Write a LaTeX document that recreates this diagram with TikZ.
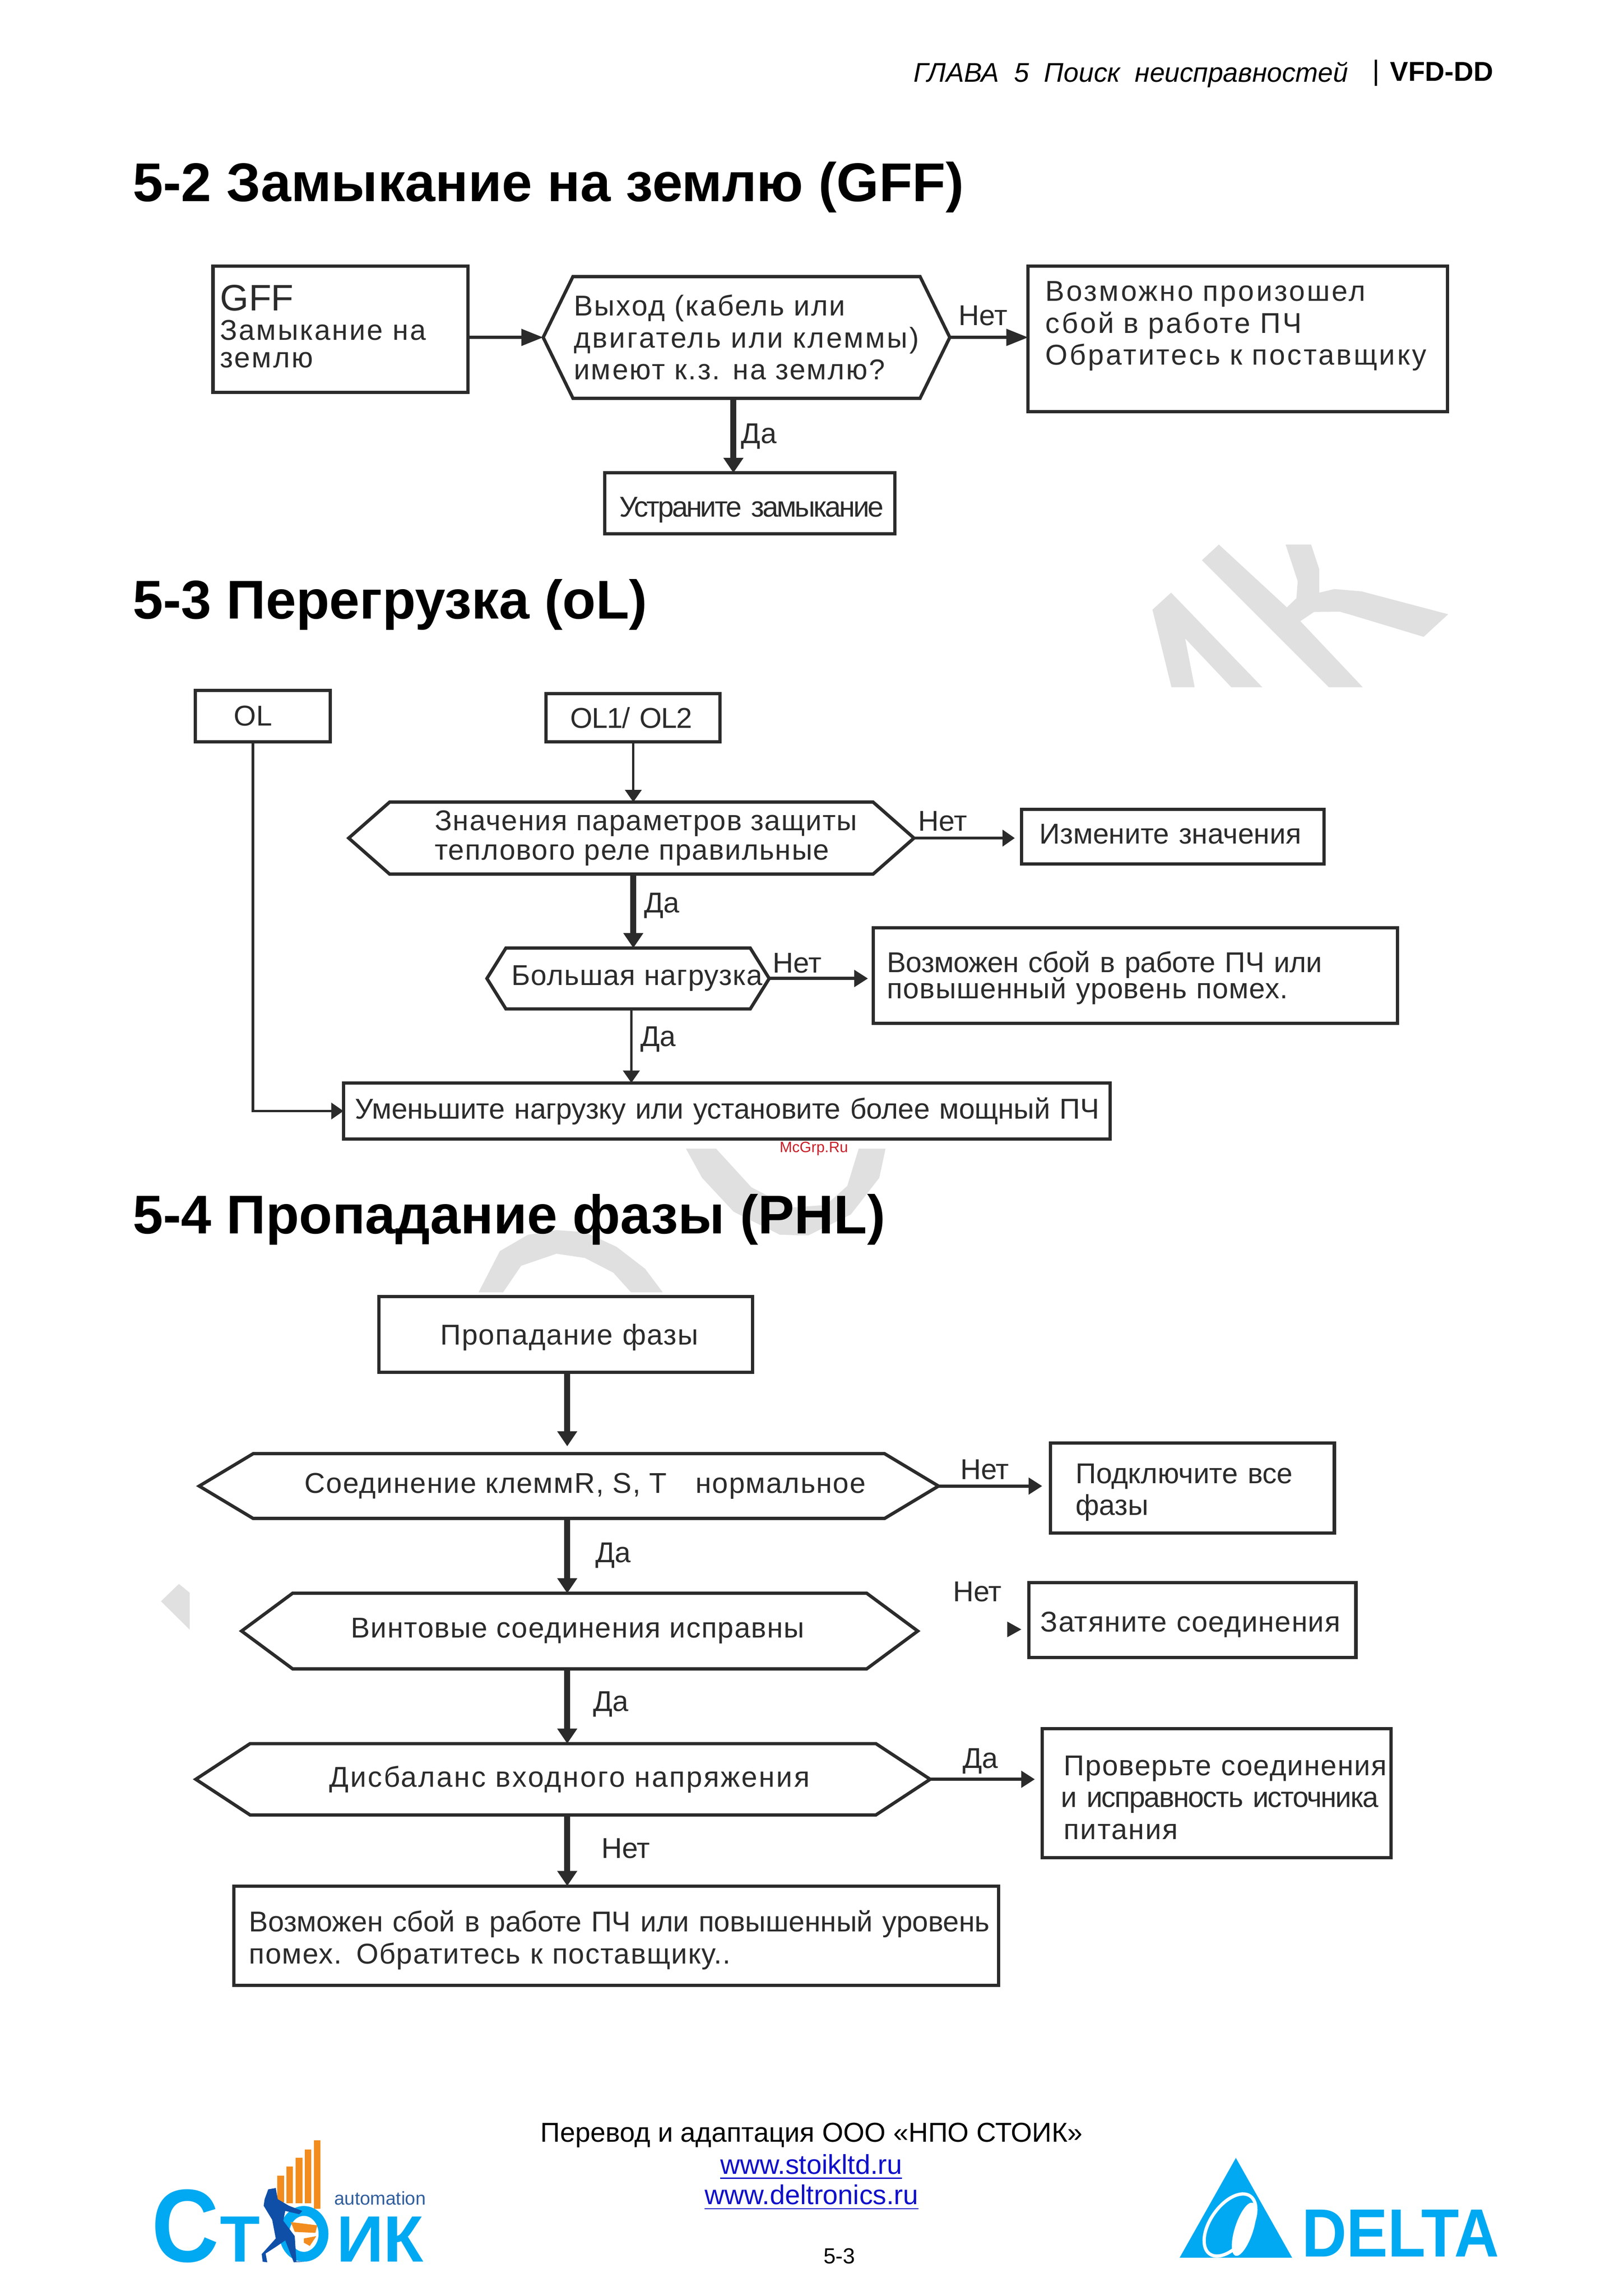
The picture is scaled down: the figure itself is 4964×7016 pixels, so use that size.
\documentclass[tikz,border=0pt]{standalone}
\usepackage{fontspec}
\setmainfont{Liberation Sans}
\usetikzlibrary{arrows.meta}

\definecolor{inkline}{HTML}{2B2B2B}
\definecolor{markgray}{HTML}{E0E0E0}
\definecolor{logoblue}{HTML}{00A9F1}
\definecolor{logonavy}{HTML}{0F4FA8}
\definecolor{logoorange}{HTML}{F28C1E}
\definecolor{linkblue}{HTML}{1010C8}
\definecolor{sitered}{HTML}{C8202A}

\def\px{0.12pt}
\newcommand{\flowfont}{\fontsize{10.5}{11.7}\selectfont}
\newcommand{\spaced}[2]{\mbox{\addfontfeature{LetterSpace=#1}#2}}

\tikzset{
  flowbox/.style n args={3}{rectangle, draw=inkline, line width=1.2pt, text=inkline,
    minimum width=#1*\px, minimum height=#2*\px, text width=(#1-2*#3)*\px,
    inner xsep=#3*\px, inner ysep=0pt, outer sep=0pt, align=left, font=\flowfont},
  hexbox/.style n args={3}{rectangle, text=inkline, minimum width=#1*\px, minimum height=#2*\px,
    inner sep=0pt, outer sep=0pt, align=left, font=\flowfont,
    append after command={(\tikzlastnode.west)
      -- ([xshift=#3*\px]\tikzlastnode.north west) -- ([xshift=-#3*\px]\tikzlastnode.north east)
      -- (\tikzlastnode.east)
      -- ([xshift=-#3*\px]\tikzlastnode.south east) -- ([xshift=#3*\px]\tikzlastnode.south west)
      -- cycle}},
  tracking/.style={font=\flowfont\addfontfeature{LetterSpace=#1}},
  hexline/.style={draw=inkline, line width=1.2pt},
  yesno/.style={text=inkline, inner sep=0pt, font=\flowfont},
  headtext/.style={inner sep=0pt, anchor=west, font=\fontsize{20}{24}\selectfont\bfseries},
  foot/.style={inner sep=0pt, font=\fontsize{10}{12}\selectfont},
  arrowthin/.style={color=inkline, line width=0.9pt, ->, >={Stealth[inset=0pt,length=4.5pt,width=6pt]}},
  arrowmid/.style={color=inkline, line width=1.2pt, ->, >={Stealth[inset=0pt,length=5pt,width=6pt]}},
  arrowbig/.style={color=inkline, line width=1.2pt, ->, >={Stealth[inset=0pt,length=8pt,width=6pt]}},
  arrowfat/.style={color=inkline, line width=2.2pt, ->, >={Stealth[inset=0pt,length=5.5pt,width=7pt]}},
  logotext/.style={text=logoblue, inner sep=0pt, anchor=base west, font=\fontsize{24}{24}\selectfont\bfseries},
}

\begin{document}
\begin{tikzpicture}[x=0.12pt, y=-0.12pt]
  \useasboundingbox (0,0) rectangle (4964,7016);

  % Watermark
  \fill[markgray] (3580,1811) -- (3523,1863) -- (3581,2100) -- (3652,2100) -- (3623,1951)
    -- (3764,2100) -- (3859,2100) -- cycle;
  \fill[markgray] (3726,1664) -- (3674,1712) -- (4062,2100) -- (4166,2100) -- (3975,1898)
    -- (4017,1870) -- (4095,1869) -- (4137,1881) -- (4352,1946) -- (4427,1877) -- (4162,1807)
    -- (4079,1800) -- (4033,1811) -- (4033,1740) -- (4008,1664) -- (3930,1664) -- (3967,1776)
    -- (3963,1828) -- (3934,1856) -- cycle;
  \fill[markgray] (2097,3510) -- (2189,3510) -- (2297,3628) -- (2417,3690) -- (2525,3682)
    -- (2590,3624) -- (2625,3510) -- (2707,3510) -- (2688,3599) -- (2601,3711) -- (2471,3775)
    -- (2384,3773) -- (2243,3703) -- (2146,3599) -- cycle;
  \fill[markgray] (1463,3949) -- (1538,3949) -- (1593,3868) -- (1701,3831) -- (1788,3844)
    -- (1875,3889) -- (1929,3949) -- (2026,3949) -- (1972,3877) -- (1885,3810) -- (1788,3765)
    -- (1701,3759) -- (1614,3773) -- (1528,3823) -- cycle;
  \fill[markgray] (547,4840) -- (492,4893) -- (580,4980) -- (580,4867) -- cycle;

  % Page header
  \draw (2792,228) node(chapter) [inner sep=0pt, anchor=west, font=\fontsize{9.9}{12}\selectfont\itshape] {ГЛАВА~~5~~Поиск~~неисправностей};
  \draw (4248,219) node(model) [inner sep=0pt, anchor=west, font=\fontsize{10}{12}\selectfont\bfseries] {VFD-DD};
  \draw[line width=0.8pt] (4206,182) -- (4206,263);

  % Titles
  \draw (404,572) node(titleGff) [headtext] {5-2 Замыкание на землю (GFF)};
  \draw (404,1847) node(titleOl) [headtext] {5-3 Перегрузка (oL)};
  \draw (404,3726) node(titlePhl) [headtext] {5-4 Пропадание фазы (PHL)};

  % Nodes, ground fault
  \draw (1041,1006) node(gffBox) [flowbox={780}{385}{22}, tracking=5.5, text depth=23pt] {{\fontsize{13.5}{13.5}\selectfont\addfontfeature{LetterSpace=0}GFF}\\[-1pt]Замыкание на\\[-1.5pt]землю};
  \draw[hexline] (2282,1031) node(gffHex) [hexbox={1243}{372}{91}, tracking=5] {Выход (кабель или\\\spaced{6.5}{двигатель или клеммы)}\\имеют к.з. на землю?};
  \draw (3784,1036) node(gffAdvice) [flowbox={1282}{445}{53}, tracking=7, text depth=35pt] {Возможно произошел\\сбой в работе ПЧ\\Обратитесь к поставщику};
  \draw (2292,1538) node(gffFix) [flowbox={887}{186}{45}, tracking=-6] {\raisebox{-4.9pt}[0pt][0pt]{Устраните замыкание}};
  \draw (3005,965) node(gffNo) [yesno] {Нет};
  \draw (2320,1333) node(gffYes) [yesno] {Да};

  % Edges, ground fault
  \path[arrowbig] (gffHex.west -| gffBox.east) edge (gffHex.west);
  \path[arrowbig] (gffHex.east) edge (gffHex.east -| gffAdvice.west);
  \path[arrowfat] ([xshift=-40*\px]gffHex.south) edge ([xshift=-50*\px]gffFix.north);

  % Nodes, overload
  \draw (803,2188) node(olBox) [flowbox={412}{157}{118}] {OL};
  \draw (1935,2193) node(olTwoBox) [flowbox={531}{147}{74}, tracking=-2.5] {\mbox{OL1/ OL2}};
  \draw[hexline] (1930,2561) node(paramHex) [hexbox={1728}{220}{125}, tracking=3] {\hspace*{10.8pt}Значения параметров защиты\\[-1pt]\hspace*{10.8pt}теплового реле правильные};
  \draw (3585,2557) node(changeBox) [flowbox={924}{167}{55}, text depth=2.2pt] {Измените значения};
  \draw[hexline] (1920,2990) node(loadHex) [hexbox={863}{186}{58}, tracking=2.2] {\hspace*{6.7pt}Большая нагрузка};
  \draw (3471,2981) node(faultBox) [flowbox={1602}{292}{42}, text depth=10.3pt] {\spaced{-1}{Возможен сбой в работе ПЧ или}\\[-2pt]\spaced{2}{повышенный уровень помех.}};
  \draw (2222,3395) node(reduceBox) [flowbox={2344}{172}{36}, tracking=-0.5] {\mbox{Уменьшите нагрузку или установите более мощный ПЧ}};
  \draw (2882,2509) node(paramNo) [yesno] {Нет};
  \draw (2023,2767) node(paramYes) [yesno] {Да};
  \draw (2437,2943) node(loadNo) [yesno] {Нет};
  \draw (2012,3176) node(loadYes) [yesno] {Да};

  % Edges, overload
  \path[arrowthin] ([xshift=1*\px]olTwoBox.south) edge ([xshift=6*\px]paramHex.north);
  \path[arrowthin, shorten >=2.5pt] (paramHex.east) edge (paramHex.east -| changeBox.west);
  \path[arrowfat] ([xshift=6*\px]paramHex.south) edge ([xshift=16*\px]loadHex.north);
  \path[arrowmid, shorten >=2pt] (loadHex.east) edge (loadHex.east -| faultBox.west);
  \path[arrowthin] ([xshift=10*\px]loadHex.south) edge ([xshift=-292*\px]reduceBox.north);
  \draw[arrowthin] ([xshift=-30*\px]olBox.south) |- (reduceBox.west);

  % Nodes, phase loss
  \draw (1729,4078) node(phaseBox) [flowbox={1142}{232}{188}, tracking=3.3, text depth=-1pt] {\mbox{Пропадание фазы}};
  \draw[hexline] (1739,4541) node(termHex) [hexbox={2260}{198}{165}, tracking=3] {\hspace*{12pt}Соединение клеммR, S, T\quad нормальное};
  \draw (3645,4547) node(wireBox) [flowbox={868}{276}{77}, text depth=10.7pt] {Подключите все\\фазы};
  \draw[hexline] (1772,4984) node(screwHex) [hexbox={2067}{231}{156}, tracking=2.7] {Винтовые соединения исправны\hspace*{1.5pt}};
  \draw (3645,4950) node(tightenBox) [flowbox={1000}{229}{36}, tracking=2.4] {\raisebox{-4.4pt}[0pt][0pt]{Затяните соединения}};
  \draw[hexline] (1721,5437) node(unbalHex) [hexbox={2245}{218}{166}, tracking=5.5] {\hspace*{4.8pt}Дисбаланс входного напряжения};
  \draw (3719,5479) node(supplyBox) [flowbox={1066}{394}{66}, text depth=20.2pt] {\spaced{3.2}{Проверьте соединения}\\\hspace*{-1pt}\spaced{-3.6}{и исправность источника}\\\spaced{4}{питания}};
  \draw (1884,5915) node(noiseBox) [flowbox={2337}{304}{46}, text depth=10.7pt] {\mbox{Возможен сбой в работе ПЧ или повышенный уровень}\\\spaced{2.9}{помех. Обратитесь к поставщику..}};
  \draw (3010,4491) node(termNo) [yesno] {Нет};
  \draw (1874,4753) node(termYes) [yesno] {Да};
  \draw (2988,4864) node(screwNo) [yesno] {Нет};
  \draw (1867,5208) node(screwYes) [yesno] {Да};
  \draw (2997,5382) node(unbalYes) [yesno] {Да};
  \draw (1913,5648) node(unbalNo) [yesno] {Нет};

  % Edges, phase loss
  \path[arrowfat, shorten >=2.7pt] ([xshift=5*\px]phaseBox.south) edge ([xshift=-5*\px]termHex.north);
  \path[arrowmid, shorten >=3pt] (termHex.east) edge (termHex.east -| wireBox.west);
  \path[arrowfat] ([xshift=-5*\px]termHex.south) edge ([xshift=-38*\px]screwHex.north);
  \fill[inkline] (3079,4955) -- (3122,4979) -- (3079,5003) -- cycle;
  \path[arrowfat] ([xshift=-38*\px]screwHex.south) edge ([xshift=13*\px]unbalHex.north);
  \path[arrowmid, shorten >=2.7pt] (unbalHex.east) edge (unbalHex.east -| supplyBox.west);
  \path[arrowfat] ([xshift=13*\px]unbalHex.south) edge ([xshift=-150*\px]noiseBox.north);

  % Site mark
  \draw (2488,3510) node(siteMark) [text=sitered, inner sep=0pt, font=\fontsize{5.5}{6}\selectfont] {McGrp.Ru};

  % Footer
  \draw (2481,6525) node(credit) [foot] {Перевод и адаптация ООО «НПО СТОИК»};
  \draw (2480,6622) node(linkStoik) [foot, text=linkblue] {\underline{www.stoikltd.ru}};
  \draw (2481,6715) node(linkDelta) [foot, text=linkblue] {\underline{www.deltronics.ru}};
  \draw (2566,6894) node(pageNo) [foot, font=\fontsize{8}{10}\selectfont] {5-3};

  % Left logo
  \fill[logoorange] (848,6648) rectangle (868,6730);
  \fill[logoorange] (875,6620) rectangle (895,6733);
  \fill[logoorange] (904,6593) rectangle (924,6733);
  \fill[logoorange] (932,6568) rectangle (952,6733);
  \fill[logoorange] (960,6540) rectangle (980,6750);
  \draw (462,6911) node(logoC) [logotext, font=\fontsize{38}{38}\selectfont\bfseries] {\scalebox{0.9}[1]{С}};
  \draw (671,6911) node(logoT) [logotext] {Т};
  \draw (1027,6911) node(logoIk) [logotext] {ИК};
  \draw (1020,6738) node(logoAuto) [inner sep=0pt, anchor=base west, text=logonavy!70!gray, font=\fontsize{6.8}{8}\selectfont] {automation};
  \draw[logoblue, line width=3.6pt] (929,6826) ellipse [x radius=60, y radius=70];
  \fill[logoorange] (889,6790) -- (970,6800) -- (964,6823) -- (901,6820) -- cycle;
  \fill[logoorange] (929,6840) -- (967,6833) -- (947,6863) -- (929,6853) -- cycle;
  \fill[logonavy] (820,6690) -- (843,6686) -- (849,6720) -- (883,6740) -- (924,6756) -- (915,6766)
    -- (872,6756) -- (866,6786) -- (901,6833) -- (906,6910) -- (929,6911) -- (898,6913)
    -- (872,6846) -- (843,6866) -- (812,6886) -- (817,6913) -- (803,6911) -- (800,6888)
    -- (843,6840) -- (832,6783) -- (806,6740) -- (809,6720) -- cycle;

  % Right logo
  \fill[logoblue] (3606,6899) -- (3778,6594) -- (3950,6899) -- cycle;
  \draw[white, line width=1.2pt] (3760,6799) ellipse [x radius=108, y radius=60, rotate=55];
  \fill[white] (3803,6812) ellipse [x radius=85, y radius=28, rotate=72];
  \draw (3978,6896) node(logoDelta) [inner sep=0pt, anchor=base west, text=logoblue, font=\fontsize{25}{25}\selectfont\bfseries] {\scalebox{0.91}[1]{DELTA}};
\end{tikzpicture}
\end{document}
